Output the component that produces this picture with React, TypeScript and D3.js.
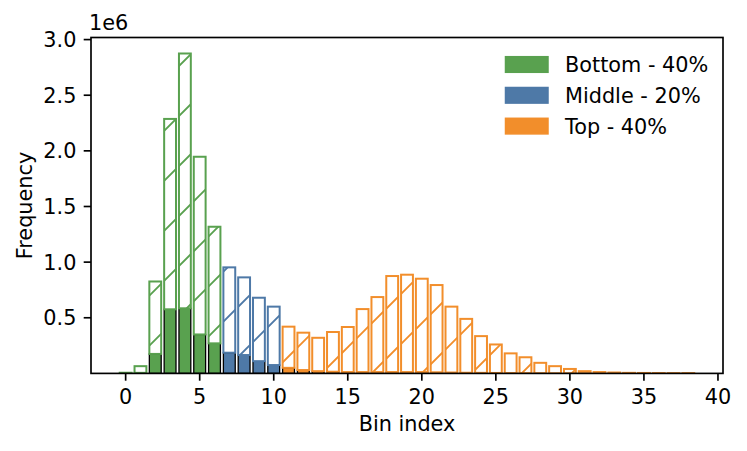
import React from "react";
import * as d3 from "d3";

// ---------- data ----------
const BINS = [0, 1, 2, 3, 4, 5, 6, 7, 8, 9, 10, 11, 12, 13, 14, 15, 16, 17, 18, 19, 20, 21, 22, 23, 24, 25, 26, 27, 28, 29, 30, 31, 32, 33, 34, 35, 36, 37, 38];
// series index per bin: 0 = Bottom, 1 = Middle, 2 = Top
const BIN_SERIES = [0, 0, 0, 0, 0, 0, 0, 1, 1, 1, 1, 2, 2, 2, 2, 2, 2, 2, 2, 2, 2, 2, 2, 2, 2, 2, 2, 2, 2, 2, 2, 2, 2, 2, 2, 2, 2, 2, 2];
// total frequency (hatched bar top)
const TOTAL = [
  6000, 65000, 826000, 2287000, 2875000, 1947000, 1318000,
  953000, 863000, 680000, 600000,
  420000, 366000, 320000, 372000, 417000, 578000, 686000, 875000, 887000, 851000,
  794000, 600000, 490000, 335000, 260000, 180000, 145000, 95000, 65000, 40000,
  20000, 12000, 8000, 5000, 4000, 3000, 2000, 2000,
];
// filled (solid) lower part
const FILLED = [
  2000, 5000, 175000, 576000, 585000, 350000, 270000,
  186000, 165000, 110000, 75000,
  50000, 30000, 20000, 15000, 12000, 12000, 12000, 12000, 12000, 12000,
  10000, 8000, 6000, 5000, 4000, 3000, 2000, 2000, 1000, 1000,
  1000, 1000, 1000, 1000, 1000, 1000, 1000, 1000,
];
const SERIES_NAMES = ["Bottom - 40%", "Middle - 20%", "Top - 40%"];
const SERIES_COLORS = ["#59a14f", "#4e79a7", "#f28e2b"];
const X_TICKS = [0, 5, 10, 15, 20, 25, 30, 35, 40];
const Y_TICKS = [500000, 1000000, 1500000, 2000000, 2500000, 3000000];

// ---------- layout ----------
const W = 747;
const H = 451;
const L = 91;
const R = 723;
const T = 37.5;
const B = 373.4;
const FONT = "DejaVu Sans";
const FS = 20.8;
const BAR_W = 0.8;
const TICK = 7.3;
const AXW = 1.67;

export default function App() {
  const xMin = (d3.min(BINS) as number) - BAR_W / 2;
  const xMax = (d3.max(BINS) as number) + BAR_W / 2;
  const pad = 0.05 * (xMax - xMin);
  const x = d3.scaleLinear().domain([xMin - pad, xMax + pad]).range([L, R]);
  const y = d3
    .scaleLinear()
    .domain([0, (d3.max(TOTAL) as number) * 1.05])
    .range([B, T]);

  return (
    <svg
      width={W}
      height={H}
      viewBox={`0 0 ${W} ${H}`}
      style={{ position: "absolute", left: 0, top: 0, background: "#fff" }}
      fontFamily={FONT}
    >
      <defs>
        {SERIES_COLORS.map((c, i) => (
          <pattern
            key={i}
            id={`hatch${i}`}
            patternUnits="userSpaceOnUse"
            x={0}
            y={0}
            width={50}
            height={50}
          >
            <rect x={0} y={0} width={50} height={50} fill="#fff" />
            <path
              d="M-5,50 L50,-5 M40,55 L55,40 M-5,0 L0,-5"
              stroke={c}
              strokeWidth={1.9}
              fill="none"
            />
          </pattern>
        ))}
        <clipPath id="plotclip">
          <rect x={L} y={T} width={R - L} height={B - T} />
        </clipPath>
      </defs>
      <rect x={0} y={0} width={W} height={H} fill="#fff" />

      <g clipPath="url(#plotclip)">
        {BINS.map((b, i) => {
          const s = BIN_SERIES[i];
          const x0 = x(b - BAR_W / 2);
          const x1 = x(b + BAR_W / 2);
          return (
            <rect
              key={`f${i}`}
              x={x0}
              y={y(FILLED[i])}
              width={x1 - x0}
              height={y(0) - y(FILLED[i])}
              fill={SERIES_COLORS[s]}
              stroke="#000"
              strokeWidth={1.3}
            />
          );
        })}
        {BINS.map((b, i) => {
          const s = BIN_SERIES[i];
          const x0 = x(b - BAR_W / 2);
          const x1 = x(b + BAR_W / 2);
          return (
            <rect
              key={`h${i}`}
              x={x0}
              y={y(TOTAL[i])}
              width={x1 - x0}
              height={y(FILLED[i]) - y(TOTAL[i])}
              fill={`url(#hatch${s})`}
              stroke={SERIES_COLORS[s]}
              strokeWidth={2}
            />
          );
        })}
      </g>

      {/* spines */}
      <rect x={L} y={T} width={R - L} height={B - T} fill="none" stroke="#000" strokeWidth={AXW} />

      {/* x ticks */}
      {X_TICKS.map((t) => (
        <g key={`xt${t}`}>
          <line x1={x(t)} x2={x(t)} y1={B} y2={B + TICK} stroke="#000" strokeWidth={AXW} />
          <text x={x(t)} y={B + 31} textAnchor="middle" fontSize={FS} fill="#000">
            {t}
          </text>
        </g>
      ))}
      <text x={(L + R) / 2} y={431} textAnchor="middle" fontSize={FS} fill="#000">
        Bin index
      </text>

      {/* y ticks */}
      {Y_TICKS.map((t) => (
        <g key={`yt${t}`}>
          <line x1={L - TICK} x2={L} y1={y(t)} y2={y(t)} stroke="#000" strokeWidth={AXW} />
          <text x={L - TICK - 7.3} y={y(t) + 7.6} textAnchor="end" fontSize={FS} fill="#000">
            {(t / 1e6).toFixed(1)}
          </text>
        </g>
      ))}
      <text x={L - 2} y={30} textAnchor="start" fontSize={FS} fill="#000">
        1e6
      </text>
      <text
        transform={`translate(32,${(T + B) / 2}) rotate(-90)`}
        textAnchor="middle"
        fontSize={FS}
        fill="#000"
      >
        Frequency
      </text>

      {/* legend */}
      {SERIES_NAMES.map((n, i) => {
        const cy = 64.5 + i * 30.8;
        return (
          <g key={`lg${i}`}>
            <rect x={505.5} y={cy - 7.8} width={42.5} height={15.6} fill={SERIES_COLORS[i]} stroke={SERIES_COLORS[i]} strokeWidth={1.5} />
            <text x={565} y={cy + 7.4} fontSize={FS} fill="#000">
              {n}
            </text>
          </g>
        );
      })}
    </svg>
  );
}
